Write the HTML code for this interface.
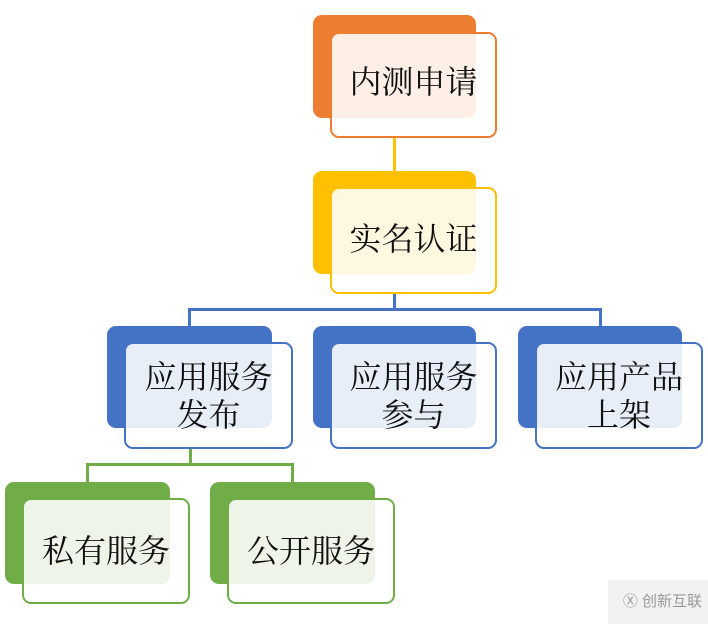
<!DOCTYPE html>
<html><head><meta charset="utf-8"><style>
body{margin:0;width:708px;height:624px;background:#fff;position:relative;overflow:hidden;font-family:"Liberation Serif","Noto Serif CJK SC",serif;}
.b{position:absolute;border-radius:9px;}
.f{position:absolute;border-radius:9px;box-sizing:border-box;border:2px solid;background:rgba(255,255,255,0.88);display:flex;align-items:center;justify-content:center;text-align:center;font-size:32px;line-height:38px;color:#111;}
.l{position:absolute;}
</style></head><body>
<div class="l" style="left:393px;top:138px;width:3px;height:34px;background:#FFC000"></div>
<div class="l" style="left:393px;top:294px;width:3px;height:16px;background:#4472C4"></div>
<div class="l" style="left:188px;top:308px;width:414px;height:3px;background:#4472C4"></div>
<div class="l" style="left:188px;top:308px;width:3px;height:19px;background:#4472C4"></div>
<div class="l" style="left:599px;top:308px;width:3px;height:19px;background:#4472C4"></div>
<div class="l" style="left:189px;top:449px;width:3px;height:16px;background:#70AD47"></div>
<div class="l" style="left:86px;top:463px;width:208px;height:3px;background:#70AD47"></div>
<div class="l" style="left:86px;top:463px;width:3px;height:20px;background:#70AD47"></div>
<div class="l" style="left:291px;top:463px;width:3px;height:20px;background:#70AD47"></div>

<div class="b" style="left:313px;top:15px;width:163px;height:103px;background:#ED7D31"></div>
<div class="f" style="left:330px;top:32px;width:167px;height:106px;border-color:#ED7D31"><div style="margin-top:-6px">内测申请</div></div>

<div class="b" style="left:313px;top:171px;width:163px;height:103px;background:#FFC000"></div>
<div class="f" style="left:330px;top:187px;width:167px;height:107px;border-color:#FFC000"><div style="margin-top:-4px">实名认证</div></div>

<div class="b" style="left:107px;top:326px;width:165px;height:102px;background:#4472C4"></div>
<div class="f" style="left:124px;top:342px;width:169px;height:107px;border-color:#4472C4"><div>应用服务<br>发布</div></div>

<div class="b" style="left:313px;top:326px;width:163px;height:102px;background:#4472C4"></div>
<div class="f" style="left:330px;top:342px;width:167px;height:107px;border-color:#4472C4"><div>应用服务<br>参与</div></div>

<div class="b" style="left:518px;top:326px;width:164px;height:102px;background:#4472C4"></div>
<div class="f" style="left:535px;top:342px;width:168px;height:107px;border-color:#4472C4"><div>应用产品<br>上架</div></div>

<div class="b" style="left:5px;top:482px;width:165px;height:102px;background:#70AD47"></div>
<div class="f" style="left:22px;top:498px;width:168px;height:106px;border-color:#70AD47">私有服务</div>

<div class="b" style="left:210px;top:482px;width:165px;height:102px;background:#70AD47"></div>
<div class="f" style="left:227px;top:498px;width:168px;height:106px;border-color:#70AD47">公开服务</div>

<div style="position:absolute;left:608px;top:580px;width:100px;height:44px;background:#f2f2f2;color:#999;font-family:'Liberation Sans','Noto Sans CJK SC',sans-serif;font-size:15px;line-height:44px;text-align:right;padding-right:6px;box-sizing:border-box">Ⓧ 创新互联</div>
</body></html>
